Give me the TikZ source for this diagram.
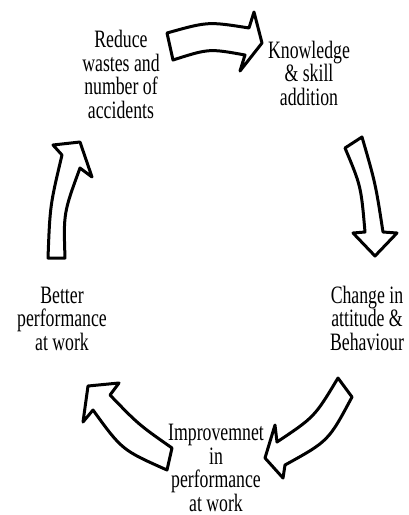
\documentclass[tikz,border=0pt]{standalone}
\usepackage{fontspec}
\newfontfamily\cf[FakeStretch=0.71]{Liberation Serif}
\begin{document}
\begin{tikzpicture}[x=1pt,y=-1pt,
  arr/.style={draw=black,fill=white,line width=3pt,line join=round},
  lbl/.style={font=\cf\fontsize{25}{23.5}\selectfont,align=center,inner sep=0pt,anchor=base}]
\useasboundingbox (0,0) rectangle (409,515);
% labels (anchor = baseline of last line)
\node[lbl] (reduce) at (121,118) {Reduce\\wastes and\\number of\\accidents};
\node[lbl] (know) at (309,105) {Knowledge\\\& skill\\addition};
\node[lbl] (change) at (367,350) {Change in\\attitude \&\\Behaviour};
\node[lbl] (improve) at (216,511) {Improvemnet\\in\\performance\\at work};
\node[lbl] (better) at (62,350) {Better\\performance\\at work};
% arrows
\draw[arr] (167,33) .. controls (208,21.5) .. (249,28) -- (254,12) -- (262,43) -- (240,71) -- (245,55) .. controls (209,48.5) .. (173,60) -- cycle;
\draw[arr] (362,137) .. controls (375.5,183.5) .. (383,232) -- (397,233) -- (375,256) -- (353,233) -- (365,232) .. controls (361,186) .. (345,148) -- cycle;
\draw[arr] (338,378) -- (352,397) .. controls (328.5,441) .. (285,465) -- (283,478) -- (265,458) -- (275,425) -- (277,442) .. controls (314.5,417) .. (338,378) -- cycle;
\draw[arr] (172,448) -- (167,470) .. controls (122,450) .. (93,410) -- (83,422) -- (88,386) -- (119,383) -- (110,395) .. controls (138.5,424.5) .. (172,448) -- cycle;
\draw[arr] (48,258) .. controls (50,205.5) .. (62,155) -- (53,145) -- (80,142) -- (92,177) -- (80,168) .. controls (63.5,213) .. (65,258) -- cycle;
\end{tikzpicture}
\end{document}
